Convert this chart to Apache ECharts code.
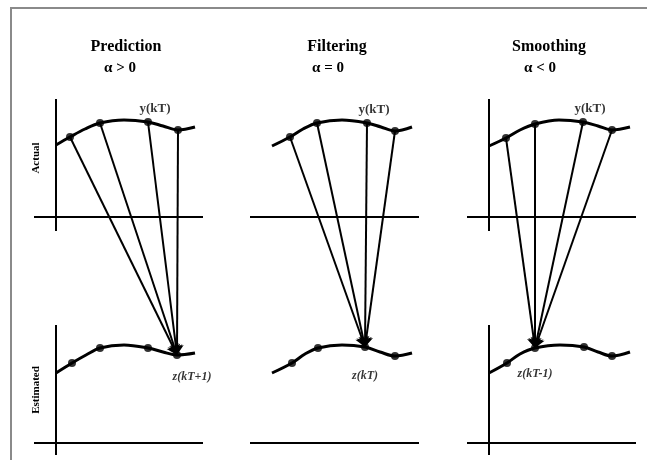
<!DOCTYPE html>
<html>
<head>
<meta charset="utf-8">
<script src="https://cdn.jsdelivr.net/npm/echarts@6/dist/echarts.min.js"></script>
<style>
  html, body { margin: 0; padding: 0; background: #fff; }
  #chart { width: 647px; height: 460px; }
</style>
</head>
<body>
<div id="chart"></div>
<script>
// Panel headings
const panelTitles = ['Prediction', 'Filtering', 'Smoothing'];
const panelConditions = ['α > 0', 'α = 0', 'α < 0'];
const upperLabel = 'y(kT)';
const lowerLabels = ['z(kT+1)', 'z(kT)', 'z(kT-1)'];
const sideLabels = ['Actual', 'Estimated'];

// Actual signal y(t) (time units, amplitude above its own axis)
const actualX_pred = [0, 1.4, 2.9, 4.4, 6.8, 9.2, 10.7, 12.2, 13.9];
const actualY_pred = [7.2, 8.0, 8.8, 9.4, 9.7, 9.5, 9.1, 8.7, 9.0];
const actualX_filt = [0, 1.8, 3.1, 4.5, 7.0, 9.5, 10.9, 12.3, 14.0];
const actualY_filt = [7.1, 8.0, 8.8, 9.4, 9.7, 9.4, 9.0, 8.6, 9.0];
const actualX_smth = [0, 1.7, 3.1, 4.6, 7.0, 9.4, 10.9, 12.3, 14.1];
const actualY_smth = [7.1, 7.9, 8.7, 9.3, 9.7, 9.5, 9.1, 8.7, 9.0];

// Estimated signal z(t)
const estX_pred = [0, 1.6, 3.0, 4.4, 6.8, 9.2, 10.7, 12.1, 13.9];
const estY_pred = [7.0, 8.0, 8.8, 9.5, 9.8, 9.5, 9.1, 8.8, 9.0];
const estX_filt = [0, 2.0, 3.3, 4.6, 7.0, 9.3, 10.8, 12.3, 14.0];
const estY_filt = [7.0, 8.0, 8.9, 9.5, 9.8, 9.6, 9.1, 8.7, 9.0];
const estX_smth = [0, 1.8, 3.1, 4.6, 7.1, 9.5, 10.9, 12.3, 14.1];
const estY_smth = [7.0, 8.0, 8.9, 9.5, 9.8, 9.6, 9.1, 8.7, 9.1];

// Positions along each trace that are the sampling instants (dots)
const sampleIdx = [1, 3, 5, 7];
// Sample that the actual samples feed into: kT+1, kT, kT-1
const targetSample = [3, 2, 1];
// Sample that is y(kT)
const currentSample = 2;

// Vertical distance between the lower (estimated) and upper (actual) axes
const UPPER_BASE = 22.6;

const actualX = [actualX_pred, actualX_filt, actualX_smth];
const actualY = [actualY_pred, actualY_filt, actualY_smth];
const estX = [estX_pred, estX_filt, estX_smth];
const estY = [estY_pred, estY_filt, estY_smth];
const hasVerticalAxis = [true, false, true];

const gridLefts = [34, 250, 467];
const lowerLabelDistance = [12, 19, 16];
const SERIF = '"Liberation Serif", "DejaVu Serif", serif';

const grids = [], xAxes = [], yAxes = [], series = [];

for (let p = 0; p < 3; p++) {
  grids.push({ left: gridLefts[p], top: 99, width: 169, height: 356 });
  xAxes.push({ gridIndex: p, type: 'value', min: -2.2, max: 14.7, show: false });
  yAxes.push({ gridIndex: p, type: 'value', min: -1.2, max: 34.4, show: false });

  const up = actualX[p].map((x, i) => [x, actualY[p][i] + UPPER_BASE]);
  const lo = estX[p].map((x, i) => [x, estY[p][i]]);
  const upSamples = sampleIdx.map(i => up[i]);
  const loSamples = sampleIdx.map(i => lo[i]);
  const tgt = loSamples[targetSample[p]];

  // axis lines
  const axisLines = [
    [{ coord: [-2.2, UPPER_BASE] }, { coord: [14.7, UPPER_BASE] }],
    [{ coord: [-2.2, 0] }, { coord: [14.7, 0] }]
  ];
  if (hasVerticalAxis[p]) {
    axisLines.push([{ coord: [0, 34.4] }, { coord: [0, 21.2] }]);
    axisLines.push([{ coord: [0, 11.8] }, { coord: [0, -1.2] }]);
  }
  series.push({
    type: 'line', xAxisIndex: p, yAxisIndex: p, data: [], silent: true,
    markLine: {
      silent: true, symbol: ['none', 'none'], label: { show: false },
      lineStyle: { color: '#000', width: 2, type: 'solid' },
      emphasis: { disabled: true },
      data: axisLines
    }
  });

  // curves
  [up, lo].forEach(d => {
    series.push({
      type: 'line', xAxisIndex: p, yAxisIndex: p, data: d,
      smooth: 0.35, symbol: 'none', silent: true,
      lineStyle: { color: '#000', width: 3 }
    });
  });

  // connecting arrows from actual samples to the estimate
  series.push({
    type: 'lines', coordinateSystem: 'cartesian2d', xAxisIndex: p, yAxisIndex: p,
    symbol: ['none', 'arrow'], symbolSize: [0, 10], silent: true,
    lineStyle: { color: '#000', width: 2, opacity: 1, curveness: 0 },
    data: upSamples.map(pt => ({ coords: [pt, tgt] }))
  });

  // sample dots + labels
  series.push({
    type: 'scatter', xAxisIndex: p, yAxisIndex: p, symbolSize: 8, silent: true,
    itemStyle: { color: '#000' },
    data: upSamples.map((pt, i) => ({
      value: pt,
      label: i === currentSample ? {
        show: true, formatter: upperLabel, position: 'top', distance: 3, offset: [7, 0],
        fontFamily: SERIF, fontWeight: 'bold', fontSize: 13, color: '#000'
      } : { show: false }
    }))
  });
  series.push({
    type: 'scatter', xAxisIndex: p, yAxisIndex: p, symbolSize: 8, silent: true,
    itemStyle: { color: '#000' },
    data: loSamples.map((pt, i) => ({
      value: pt,
      label: i === targetSample[p] ? {
        show: true, formatter: lowerLabels[p], position: 'bottom',
        distance: lowerLabelDistance[p],
        offset: p === 0 ? [15, 0] : [0, 0],
        fontFamily: SERIF, fontWeight: 'bold', fontStyle: 'italic', fontSize: 12, color: '#000'
      } : { show: false }
    }))
  });
}

// headings, side labels and the frame
const headingX = [126, 337, 549];
const conditionX = [120, 328, 540];
const graphic = [
  { type: 'polyline', shape: { points: [[11, 460], [11, 8], [647, 8]] },
    style: { stroke: '#8a8a8a', lineWidth: 2, fill: null }, silent: true }
];
for (let p = 0; p < 3; p++) {
  graphic.push({
    type: 'text', x: headingX[p], y: 47,
    style: { text: panelTitles[p], font: 'bold 16px ' + SERIF, fill: '#000',
             align: 'center', verticalAlign: 'middle' }
  });
  graphic.push({
    type: 'text', x: conditionX[p], y: 68,
    style: { text: panelConditions[p], font: 'bold 15px ' + SERIF, fill: '#000',
             align: 'center', verticalAlign: 'middle' }
  });
}
graphic.push({
  type: 'text', x: 36, y: 158, rotation: Math.PI / 2,
  style: { text: sideLabels[0], font: 'bold 11px ' + SERIF, fill: '#000',
           align: 'center', verticalAlign: 'middle' }
});
graphic.push({
  type: 'text', x: 36, y: 390, rotation: Math.PI / 2,
  style: { text: sideLabels[1], font: 'bold 11px ' + SERIF, fill: '#000',
           align: 'center', verticalAlign: 'middle' }
});

const chart = echarts.init(document.getElementById('chart'), null, { renderer: 'canvas' });
chart.setOption({
  animation: false,
  backgroundColor: '#fff',
  grid: grids,
  xAxis: xAxes,
  yAxis: yAxes,
  series: series,
  graphic: graphic
});
</script>
</body>
</html>
